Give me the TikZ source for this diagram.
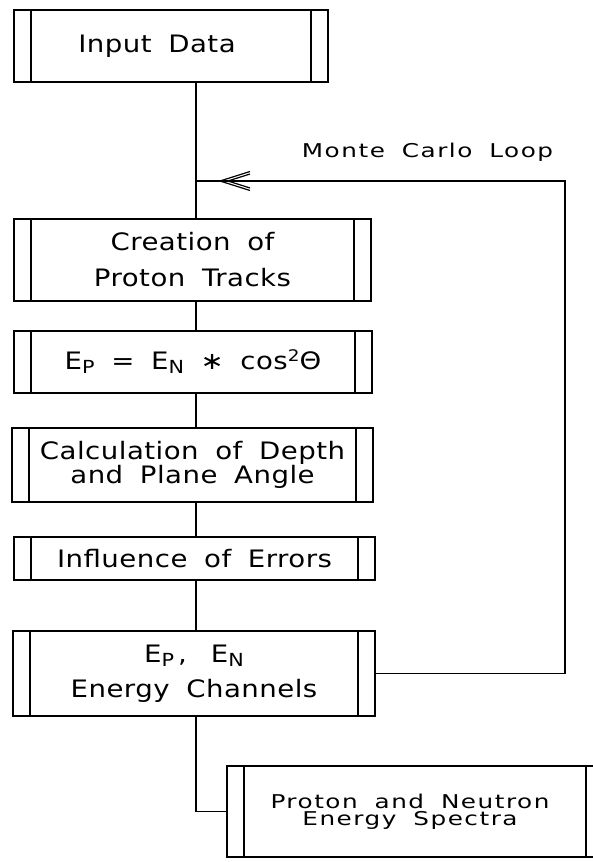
\documentclass[tikz,border=0pt]{standalone}
\usepackage{fontspec}
\newfontfamily\boxfont{DejaVu Sans}[FakeStretch=1.15, LetterSpace=2, WordSpace=1.8]
\newfontfamily\notefont{DejaVu Sans}[FakeStretch=1.3, LetterSpace=8, WordSpace=1.8]
\newcommand{\subtxt}[1]{\raisebox{-4.5pt}{\fontsize{18}{18}\selectfont #1}}
\newcommand{\suptxt}[1]{\raisebox{7.5pt}{\fontsize{16}{16}\selectfont #1}}
\newlength{\barw}
\setlength{\barw}{17pt}
\tikzset{
  flowline/.style={line width=1.2pt},
  procbox/.style={
    draw, line width=1.2pt, inner sep=0pt, align=center,
    font=\boxfont\fontsize{24}{#1}\selectfont,
    path picture={
      \draw[flowline]
        ([xshift=\barw]path picture bounding box.north west) --
        ([xshift=\barw]path picture bounding box.south west)
        ([xshift=-\barw]path picture bounding box.north east) --
        ([xshift=-\barw]path picture bounding box.south east);}},
  procbox/.default=28,
  notelbl/.style={font=\notefont\fontsize{19}{17}\selectfont, inner sep=0pt},
}

\begin{document}
\begin{tikzpicture}[x=1pt, y=-1pt]
\clip (0,0) rectangle (593,862);

\coordinate (spine) at (196,0);

%% boxes
\node[procbox, minimum width=314pt, minimum height=72pt] (in) at (171,46)
  {\kern-28pt Input Data};
\node[procbox=36, minimum width=357pt, minimum height=82pt] (cre) at (192.5,260)
  {Creation of\\ Proton Tracks};
\node[procbox, minimum width=358pt, minimum height=62pt] (ep) at (193,362)
  {E\subtxt{P} = E\subtxt{N} ∗ cos\suptxt{2}Θ};
\node[procbox=21, minimum width=361pt, minimum height=74pt] (calc) at (192.5,465)
  {Calculation of Depth\\ and Plane Angle};
\node[procbox, minimum width=361pt, minimum height=43pt] (infl) at (194.5,558.5)
  {Influence of Errors};
\node[procbox=35, minimum width=362pt, minimum height=85pt] (ech) at (194,673.5)
  {E\subtxt{P}\,,\quad E\subtxt{N}\\ Energy Channels};
\node[procbox, notelbl, minimum width=376pt, minimum height=91pt] (spec) at (415,811.5)
  {\kern-10pt Proton and Neutron\\ \kern-10pt Energy Spectra};

%% main flow
\draw[flowline] (in.south -| spine) -- (cre.north -| spine);
\draw[flowline] (cre.south -| spine) -- (ep.north -| spine);
\draw[flowline] (ep.south -| spine) -- (calc.north -| spine);
\draw[flowline] (calc.south -| spine) -- (infl.north -| spine);
\draw[flowline] (infl.south -| spine) -- (ech.north -| spine);
\draw[flowline] (ech.south -| spine) |- (spec.west);

%% Monte Carlo loop
\coordinate (mccorner) at (565,181);
\coordinate (mcjoin) at (spine |- mccorner);
\coordinate (mctip) at (220,181);
\draw[flowline] (ech.east) -| (mccorner) -- (mcjoin);
\draw[flowline] (mctip) ++(30,-9.5) -- (mctip) -- ++(30,9.5);
\draw[flowline] ([xshift=8pt]mctip) ++(22,-7) -- ([xshift=8pt]mctip) -- ++(22,7);
\node[notelbl, anchor=base] (mcl) at (427.5,157) {Monte Carlo Loop};
\end{tikzpicture}
\end{document}
